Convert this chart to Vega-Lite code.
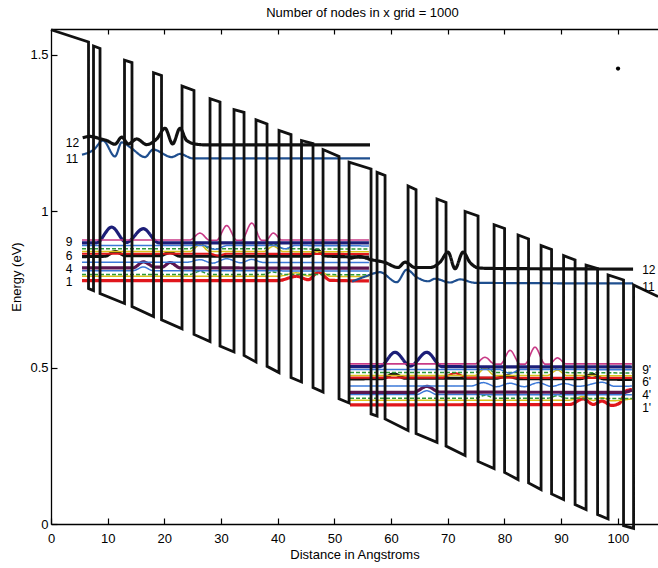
{
  "$schema": "https://vega.github.io/schema/vega-lite/v6.json",
  "width": 607,
  "height": 495,
  "autosize": "none",
  "padding": {"left": 51, "top": 29, "right": 0, "bottom": 44},
  "title": {"text": "Number of nodes in x grid = 1000", "fontSize": 13, "fontWeight": "normal", "offset": 4, "dx": 8, "frame": "group"},
  "config": {
    "font": "Liberation Sans",
    "view": {"stroke": null},
    "axis": {"grid": false, "domainColor": "black", "tickColor": "black", "labelColor": "black", "titleColor": "black", "labelFontSize": 13, "titleFontSize": 13, "titleFontWeight": "normal", "domainWidth": 1.3, "tickWidth": 1.2}
  },
  "datasets": {
    "band": [
      {"i":0,"x":0,"y":1.58},{"i":1,"x":6.62,"y":1.541},{"i":2,"x":6.62,"y":0.753},{"i":3,"x":7.5,"y":0.746},{"i":4,"x":7.5,"y":1.528},{"i":5,"x":8.65,"y":1.52},{"i":6,"x":8.65,"y":0.737},{"i":7,"x":12.97,"y":0.705},{"i":8,"x":12.97,"y":1.483},{"i":9,"x":14.29,"y":1.475},
      {"i":10,"x":14.29,"y":0.695},{"i":11,"x":18.09,"y":0.663},{"i":12,"x":18.09,"y":1.443},{"i":13,"x":19.5,"y":1.434},{"i":14,"x":19.5,"y":0.653},{"i":15,"x":23.12,"y":0.624},{"i":16,"x":23.12,"y":1.4},{"i":17,"x":25.23,"y":1.386},{"i":18,"x":25.23,"y":0.606},{"i":19,"x":28.06,"y":0.583},
      {"i":20,"x":28.06,"y":1.36},{"i":21,"x":29.82,"y":1.349},{"i":22,"x":29.82,"y":0.569},{"i":23,"x":32.29,"y":0.55},{"i":24,"x":32.29,"y":1.325},{"i":25,"x":34.06,"y":1.316},{"i":26,"x":34.06,"y":0.539},{"i":27,"x":36.17,"y":0.518},{"i":28,"x":36.17,"y":1.292},{"i":29,"x":38.12,"y":1.279},
      {"i":30,"x":38.12,"y":0.504},{"i":31,"x":40.23,"y":0.484},{"i":32,"x":40.23,"y":1.258},{"i":33,"x":42.35,"y":1.245},{"i":34,"x":42.35,"y":0.468},{"i":35,"x":44.2,"y":0.454},{"i":36,"x":44.2,"y":1.226},{"i":37,"x":46.23,"y":1.216},{"i":38,"x":46.23,"y":0.436},{"i":39,"x":48.0,"y":0.422},
      {"i":40,"x":48.0,"y":1.197},{"i":41,"x":50.82,"y":1.175},{"i":42,"x":50.82,"y":0.4},{"i":43,"x":52.59,"y":0.387},{"i":44,"x":52.59,"y":1.157},{"i":45,"x":56.47,"y":1.135},{"i":46,"x":56.47,"y":0.352},{"i":47,"x":57.53,"y":0.345},{"i":48,"x":57.53,"y":1.124},{"i":49,"x":58.94,"y":1.114},
      {"i":50,"x":58.94,"y":0.336},{"i":51,"x":63.0,"y":0.299},{"i":52,"x":63.0,"y":1.081},{"i":53,"x":64.41,"y":1.069},{"i":54,"x":64.41,"y":0.289},{"i":55,"x":68.11,"y":0.261},{"i":56,"x":68.11,"y":1.039},{"i":57,"x":69.7,"y":1.028},{"i":58,"x":69.7,"y":0.249},{"i":59,"x":73.06,"y":0.219},
      {"i":60,"x":73.06,"y":0.999},{"i":61,"x":75.35,"y":0.985},{"i":62,"x":75.35,"y":0.2},{"i":63,"x":78.18,"y":0.177},{"i":64,"x":78.18,"y":0.957},{"i":65,"x":80.03,"y":0.945},{"i":66,"x":80.03,"y":0.165},{"i":67,"x":82.41,"y":0.142},{"i":68,"x":82.41,"y":0.924},{"i":69,"x":84.26,"y":0.911},
      {"i":70,"x":84.26,"y":0.131},{"i":71,"x":86.47,"y":0.11},{"i":72,"x":86.47,"y":0.89},{"i":73,"x":88.32,"y":0.878},{"i":74,"x":88.32,"y":0.096},{"i":75,"x":90.44,"y":0.078},{"i":76,"x":90.44,"y":0.858},{"i":77,"x":92.47,"y":0.844},{"i":78,"x":92.47,"y":0.062},{"i":79,"x":94.41,"y":0.046},
      {"i":80,"x":94.41,"y":0.828},{"i":81,"x":96.44,"y":0.817},{"i":82,"x":96.44,"y":0.03},{"i":83,"x":98.29,"y":0.016},{"i":84,"x":98.29,"y":0.796},{"i":85,"x":101.02,"y":0.78},{"i":86,"x":101.02,"y":-0.005},{"i":87,"x":102.79,"y":-0.014},{"i":88,"x":102.79,"y":0.764},{"i":89,"x":107.11,"y":0.727}
    ],
    "levels": [
      {"s":"a1","k":1,"x":5.47,"y":0.778},{"s":"a1","k":1,"x":40.0,"y":0.778},{"s":"a1","k":1,"x":43.36,"y":0.792},{"s":"a1","k":1,"x":45.4,"y":0.781},{"s":"a1","k":1,"x":47.17,"y":0.805},{"s":"a1","k":1,"x":49.3,"y":0.779},{"s":"a1","k":1,"x":56.1,"y":0.777},
      {"s":"a2","k":2,"x":5.47,"y":0.792},{"s":"a2","k":2,"x":40.0,"y":0.792},{"s":"a2","k":2,"x":43.36,"y":0.803},{"s":"a2","k":2,"x":45.4,"y":0.793},{"s":"a2","k":2,"x":47.17,"y":0.812},{"s":"a2","k":2,"x":49.3,"y":0.792},{"s":"a2","k":2,"x":56.1,"y":0.791},
      {"s":"a3","k":3,"x":5.47,"y":0.798},{"s":"a3","k":3,"x":24.5,"y":0.798},{"s":"a3","k":3,"x":26.29,"y":0.808},{"s":"a3","k":3,"x":28.0,"y":0.798},{"s":"a3","k":3,"x":37.5,"y":0.798},{"s":"a3","k":3,"x":39.23,"y":0.806},{"s":"a3","k":3,"x":41.0,"y":0.798},{"s":"a3","k":3,"x":56.1,"y":0.797},
      {"s":"a4","k":4,"x":5.47,"y":0.81},{"s":"a4","k":4,"x":14.5,"y":0.81},{"s":"a4","k":4,"x":16.29,"y":0.822},{"s":"a4","k":4,"x":18.0,"y":0.81},{"s":"a4","k":4,"x":56.1,"y":0.809},
      {"s":"a5","k":5,"x":5.47,"y":0.819},{"s":"a5","k":5,"x":14.5,"y":0.819},{"s":"a5","k":5,"x":16.3,"y":0.838},{"s":"a5","k":5,"x":18.4,"y":0.821},{"s":"a5","k":5,"x":19.6,"y":0.821},{"s":"a5","k":5,"x":21.0,"y":0.836},{"s":"a5","k":5,"x":22.8,"y":0.819},{"s":"a5","k":5,"x":56.1,"y":0.818},
      {"s":"a6","k":6,"x":5.47,"y":0.837},{"s":"a6","k":6,"x":24.0,"y":0.837},{"s":"a6","k":6,"x":26.3,"y":0.845},{"s":"a6","k":6,"x":28.5,"y":0.834},{"s":"a6","k":6,"x":31.0,"y":0.848},{"s":"a6","k":6,"x":33.5,"y":0.835},{"s":"a6","k":6,"x":35.4,"y":0.846},{"s":"a6","k":6,"x":37.5,"y":0.836},{"s":"a6","k":6,"x":56.1,"y":0.836},
      {"s":"a7","k":7,"x":5.47,"y":0.855},{"s":"a7","k":7,"x":9.5,"y":0.856},{"s":"a7","k":7,"x":11.3,"y":0.871},{"s":"a7","k":7,"x":13.2,"y":0.858},{"s":"a7","k":7,"x":19.2,"y":0.858},{"s":"a7","k":7,"x":21.0,"y":0.868},{"s":"a7","k":7,"x":22.8,"y":0.856},{"s":"a7","k":7,"x":45.5,"y":0.856},{"s":"a7","k":7,"x":46.9,"y":0.876},{"s":"a7","k":7,"x":48.4,"y":0.857},{"s":"a7","k":7,"x":56.1,"y":0.853},
      {"s":"a8","k":8,"x":5.47,"y":0.864},{"s":"a8","k":8,"x":28.0,"y":0.864},{"s":"a8","k":8,"x":29.5,"y":0.858},{"s":"a8","k":8,"x":31.0,"y":0.864},{"s":"a8","k":8,"x":56.1,"y":0.863},
      {"s":"a9","k":9,"x":5.47,"y":0.871},{"s":"a9","k":9,"x":24.5,"y":0.871},{"s":"a9","k":9,"x":26.29,"y":0.893},{"s":"a9","k":9,"x":28.0,"y":0.871},{"s":"a9","k":9,"x":37.5,"y":0.871},{"s":"a9","k":9,"x":39.23,"y":0.888},{"s":"a9","k":9,"x":41.0,"y":0.871},{"s":"a9","k":9,"x":56.1,"y":0.87},
      {"s":"a10","k":10,"x":5.47,"y":0.88},{"s":"a10","k":10,"x":24.5,"y":0.88},{"s":"a10","k":10,"x":26.29,"y":0.9},{"s":"a10","k":10,"x":28.0,"y":0.88},{"s":"a10","k":10,"x":37.5,"y":0.88},{"s":"a10","k":10,"x":39.23,"y":0.896},{"s":"a10","k":10,"x":41.0,"y":0.88},{"s":"a10","k":10,"x":56.1,"y":0.879},
      {"s":"a11","k":11,"x":5.47,"y":0.89},{"s":"a11","k":11,"x":27.0,"y":0.89},{"s":"a11","k":11,"x":29.0,"y":0.878},{"s":"a11","k":11,"x":31.0,"y":0.89},{"s":"a11","k":11,"x":39.5,"y":0.89},{"s":"a11","k":11,"x":41.3,"y":0.88},{"s":"a11","k":11,"x":43.0,"y":0.89},{"s":"a11","k":11,"x":56.1,"y":0.889},
      {"s":"a12","k":12,"x":5.47,"y":0.899},{"s":"a12","k":12,"x":8.0,"y":0.899},{"s":"a12","k":12,"x":10.71,"y":0.949},{"s":"a12","k":12,"x":13.3,"y":0.9},{"s":"a12","k":12,"x":16.29,"y":0.944},{"s":"a12","k":12,"x":19.0,"y":0.899},{"s":"a12","k":12,"x":56.1,"y":0.899},
      {"s":"a13","k":13,"x":5.47,"y":0.908},{"s":"a13","k":13,"x":24.5,"y":0.908},{"s":"a13","k":13,"x":26.29,"y":0.93},{"s":"a13","k":13,"x":28.0,"y":0.907},{"s":"a13","k":13,"x":29.2,"y":0.907},{"s":"a13","k":13,"x":31.0,"y":0.954},{"s":"a13","k":13,"x":32.8,"y":0.907},{"s":"a13","k":13,"x":33.6,"y":0.907},{"s":"a13","k":13,"x":35.42,"y":0.962},{"s":"a13","k":13,"x":37.2,"y":0.907},{"s":"a13","k":13,"x":37.9,"y":0.907},{"s":"a13","k":13,"x":39.23,"y":0.93},{"s":"a13","k":13,"x":40.7,"y":0.908},{"s":"a13","k":13,"x":56.1,"y":0.908},
      {"s":"a14","k":14,"x":5.47,"y":1.181},{"s":"a14","k":14,"x":7.5,"y":1.196},{"s":"a14","k":14,"x":9.18,"y":1.226},{"s":"a14","k":14,"x":11.29,"y":1.175},{"s":"a14","k":14,"x":12.47,"y":1.22},{"s":"a14","k":14,"x":14.0,"y":1.204},{"s":"a14","k":14,"x":16.59,"y":1.173},{"s":"a14","k":14,"x":18.0,"y":1.197},{"s":"a14","k":14,"x":21.3,"y":1.173},{"s":"a14","k":14,"x":22.76,"y":1.183},{"s":"a14","k":14,"x":25.0,"y":1.169},{"s":"a14","k":14,"x":56.29,"y":1.169},
      {"s":"a15","k":15,"x":5.59,"y":1.235},{"s":"a15","k":15,"x":6.88,"y":1.239},{"s":"a15","k":15,"x":8.65,"y":1.232},{"s":"a15","k":15,"x":9.83,"y":1.226},{"s":"a15","k":15,"x":11.29,"y":1.214},{"s":"a15","k":15,"x":12.48,"y":1.237},{"s":"a15","k":15,"x":13.64,"y":1.215},{"s":"a15","k":15,"x":15.12,"y":1.231},{"s":"a15","k":15,"x":16.88,"y":1.213},{"s":"a15","k":15,"x":18.65,"y":1.231},{"s":"a15","k":15,"x":20.12,"y":1.265},{"s":"a15","k":15,"x":21.47,"y":1.215},{"s":"a15","k":15,"x":22.76,"y":1.265},{"s":"a15","k":15,"x":23.94,"y":1.226},{"s":"a15","k":15,"x":25.71,"y":1.214},{"s":"a15","k":15,"x":27.5,"y":1.212},{"s":"a15","k":15,"x":56.29,"y":1.212},
      {"s":"b1","k":1,"x":52.76,"y":0.381},{"s":"b1","k":1,"x":91.5,"y":0.382},{"s":"b1","k":1,"x":93.93,"y":0.4},{"s":"b1","k":1,"x":95.69,"y":0.382},{"s":"b1","k":1,"x":97.18,"y":0.393},{"s":"b1","k":1,"x":98.94,"y":0.379},{"s":"b1","k":1,"x":100.3,"y":0.386},{"s":"b1","k":1,"x":101.59,"y":0.427},{"s":"b1","k":1,"x":102.5,"y":0.43},
      {"s":"b2","k":2,"x":52.76,"y":0.396},{"s":"b2","k":2,"x":91.5,"y":0.396},{"s":"b2","k":2,"x":93.93,"y":0.408},{"s":"b2","k":2,"x":95.69,"y":0.395},{"s":"b2","k":2,"x":97.18,"y":0.404},{"s":"b2","k":2,"x":98.94,"y":0.394},{"s":"b2","k":2,"x":102.5,"y":0.4},
      {"s":"b3","k":3,"x":52.76,"y":0.402},{"s":"b3","k":3,"x":74.8,"y":0.402},{"s":"b3","k":3,"x":76.58,"y":0.412},{"s":"b3","k":3,"x":78.3,"y":0.402},{"s":"b3","k":3,"x":87.6,"y":0.402},{"s":"b3","k":3,"x":89.34,"y":0.41},{"s":"b3","k":3,"x":91.0,"y":0.402},{"s":"b3","k":3,"x":102.5,"y":0.401},
      {"s":"b4","k":4,"x":52.76,"y":0.414},{"s":"b4","k":4,"x":64.5,"y":0.414},{"s":"b4","k":4,"x":66.3,"y":0.426},{"s":"b4","k":4,"x":68.1,"y":0.414},{"s":"b4","k":4,"x":102.5,"y":0.413},
      {"s":"b5","k":5,"x":52.76,"y":0.421},{"s":"b5","k":5,"x":64.0,"y":0.421},{"s":"b5","k":5,"x":66.3,"y":0.44},{"s":"b5","k":5,"x":68.6,"y":0.422},{"s":"b5","k":5,"x":101.0,"y":0.421},{"s":"b5","k":5,"x":102.5,"y":0.428},
      {"s":"b6","k":6,"x":52.76,"y":0.441},{"s":"b6","k":6,"x":74.0,"y":0.441},{"s":"b6","k":6,"x":76.3,"y":0.452},{"s":"b6","k":6,"x":78.6,"y":0.439},{"s":"b6","k":6,"x":81.0,"y":0.45},{"s":"b6","k":6,"x":83.5,"y":0.439},{"s":"b6","k":6,"x":86.0,"y":0.452},{"s":"b6","k":6,"x":88.3,"y":0.44},{"s":"b6","k":6,"x":90.6,"y":0.449},{"s":"b6","k":6,"x":93.0,"y":0.44},{"s":"b6","k":6,"x":97.3,"y":0.453},{"s":"b6","k":6,"x":99.5,"y":0.44},{"s":"b6","k":6,"x":102.5,"y":0.441},
      {"s":"b7","k":7,"x":52.76,"y":0.464},{"s":"b7","k":7,"x":58.5,"y":0.465},{"s":"b7","k":7,"x":60.5,"y":0.48},{"s":"b7","k":7,"x":62.5,"y":0.466},{"s":"b7","k":7,"x":78.5,"y":0.466},{"s":"b7","k":7,"x":80.5,"y":0.474},{"s":"b7","k":7,"x":82.5,"y":0.465},{"s":"b7","k":7,"x":93.5,"y":0.465},{"s":"b7","k":7,"x":95.5,"y":0.478},{"s":"b7","k":7,"x":97.5,"y":0.464},{"s":"b7","k":7,"x":102.5,"y":0.462},
      {"s":"b8","k":8,"x":52.76,"y":0.468},{"s":"b8","k":8,"x":69.0,"y":0.468},{"s":"b8","k":8,"x":71.3,"y":0.482},{"s":"b8","k":8,"x":73.5,"y":0.468},{"s":"b8","k":8,"x":102.5,"y":0.467},
      {"s":"b9","k":9,"x":52.76,"y":0.475},{"s":"b9","k":9,"x":74.8,"y":0.475},{"s":"b9","k":9,"x":76.58,"y":0.497},{"s":"b9","k":9,"x":78.3,"y":0.475},{"s":"b9","k":9,"x":87.6,"y":0.475},{"s":"b9","k":9,"x":89.34,"y":0.492},{"s":"b9","k":9,"x":91.0,"y":0.475},{"s":"b9","k":9,"x":102.5,"y":0.474},
      {"s":"b10","k":10,"x":52.76,"y":0.484},{"s":"b10","k":10,"x":74.8,"y":0.484},{"s":"b10","k":10,"x":76.58,"y":0.504},{"s":"b10","k":10,"x":78.3,"y":0.484},{"s":"b10","k":10,"x":87.6,"y":0.484},{"s":"b10","k":10,"x":89.34,"y":0.5},{"s":"b10","k":10,"x":91.0,"y":0.484},{"s":"b10","k":10,"x":102.5,"y":0.483},
      {"s":"b11","k":11,"x":52.76,"y":0.494},{"s":"b11","k":11,"x":79.0,"y":0.494},{"s":"b11","k":11,"x":81.0,"y":0.482},{"s":"b11","k":11,"x":83.0,"y":0.494},{"s":"b11","k":11,"x":102.5,"y":0.493},
      {"s":"b12","k":12,"x":52.76,"y":0.503},{"s":"b12","k":12,"x":58.0,"y":0.503},{"s":"b12","k":12,"x":60.7,"y":0.549},{"s":"b12","k":12,"x":63.4,"y":0.505},{"s":"b12","k":12,"x":66.3,"y":0.549},{"s":"b12","k":12,"x":69.0,"y":0.503},{"s":"b12","k":12,"x":102.5,"y":0.502},
      {"s":"b13","k":13,"x":52.76,"y":0.512},{"s":"b13","k":13,"x":74.8,"y":0.512},{"s":"b13","k":13,"x":76.58,"y":0.533},{"s":"b13","k":13,"x":78.3,"y":0.511},{"s":"b13","k":13,"x":79.3,"y":0.511},{"s":"b13","k":13,"x":81.0,"y":0.555},{"s":"b13","k":13,"x":82.8,"y":0.511},{"s":"b13","k":13,"x":83.6,"y":0.511},{"s":"b13","k":13,"x":85.4,"y":0.565},{"s":"b13","k":13,"x":87.2,"y":0.511},{"s":"b13","k":13,"x":87.9,"y":0.511},{"s":"b13","k":13,"x":89.34,"y":0.531},{"s":"b13","k":13,"x":90.9,"y":0.512},{"s":"b13","k":13,"x":102.5,"y":0.512},
      {"s":"b14","k":14,"x":53.11,"y":0.775},{"s":"b14","k":14,"x":55.41,"y":0.791},{"s":"b14","k":14,"x":58.05,"y":0.805},{"s":"b14","k":14,"x":61.0,"y":0.773},{"s":"b14","k":14,"x":62.77,"y":0.813},{"s":"b14","k":14,"x":64.53,"y":0.789},{"s":"b14","k":14,"x":66.53,"y":0.776},{"s":"b14","k":14,"x":67.76,"y":0.784},{"s":"b14","k":14,"x":70.41,"y":0.772},{"s":"b14","k":14,"x":72.17,"y":0.782},{"s":"b14","k":14,"x":74.82,"y":0.771},{"s":"b14","k":14,"x":102.7,"y":0.769},
      {"s":"b15","k":15,"x":52.76,"y":0.849},{"s":"b15","k":15,"x":54.5,"y":0.855},{"s":"b15","k":15,"x":56.29,"y":0.846},{"s":"b15","k":15,"x":58.94,"y":0.836},{"s":"b15","k":15,"x":61.23,"y":0.82},{"s":"b15","k":15,"x":62.47,"y":0.837},{"s":"b15","k":15,"x":64.23,"y":0.82},{"s":"b15","k":15,"x":66.88,"y":0.82},{"s":"b15","k":15,"x":68.64,"y":0.837},{"s":"b15","k":15,"x":70.06,"y":0.869},{"s":"b15","k":15,"x":71.29,"y":0.816},{"s":"b15","k":15,"x":72.7,"y":0.869},{"s":"b15","k":15,"x":73.94,"y":0.836},{"s":"b15","k":15,"x":75.35,"y":0.819},{"s":"b15","k":15,"x":77.47,"y":0.817},{"s":"b15","k":15,"x":102.7,"y":0.815}
    ],
    "labels": [
      {"t":"12","x":2.6,"y":1.217},{"t":"11","x":2.6,"y":1.168},{"t":"9","x":2.6,"y":0.9},{"t":"6","x":2.6,"y":0.858},{"t":"4","x":2.6,"y":0.816},{"t":"1","x":2.6,"y":0.775},
      {"t":"12","x":104.3,"y":0.813},{"t":"11","x":104.3,"y":0.759},{"t":"9'","x":104.3,"y":0.493},{"t":"6'","x":104.3,"y":0.453},{"t":"4'","x":104.3,"y":0.411},{"t":"1'","x":104.3,"y":0.37}
    ],
    "specks": [{"x":100.05,"y":1.456}]
  },
  "layer": [
    {
      "data": {"name": "levels"},
      "mark": {"type": "line", "interpolate": "monotone"},
      "encoding": {
        "x": {"field": "x", "type": "quantitative", "scale": {"domain": [0, 107.1], "nice": false, "zero": false}, "axis": null},
        "y": {"field": "y", "type": "quantitative", "scale": {"domain": [0, 1.5825], "nice": false, "zero": false}, "axis": null},
        "detail": {"field": "s", "type": "nominal"},
        "color": {"field": "k", "type": "nominal", "legend": null,
                  "scale": {"domain": [1,2,3,4,5,6,7,8,9,10,11,12,13,14,15],
                            "range": ["#e0161c","#d9c21a","#2e9a38","#3b78d8","#5c1650","#3b78d8","#111111","#e0161c","#d9c21a","#2e9a38","#3b78d8","#1c1e78","#c83a86","#1f4f8f","#111111"]}},
        "strokeWidth": {"field": "k", "type": "nominal", "legend": null,
                  "scale": {"type": "ordinal", "domain": [1,2,3,4,5,6,7,8,9,10,11,12,13,14,15],
                            "range": [3.2,1.5,1.5,1.5,3.2,1.5,3.2,2.2,1.5,1.5,1.5,3.2,1.6,2.2,3.2]}},
        "strokeDash": {"field": "k", "type": "nominal", "legend": null,
                  "scale": {"domain": [1,2,3,4,5,6,7,8,9,10,11,12,13,14,15],
                            "range": [[1,0],[1,0],[4,2],[1,0],[1,0],[1,0],[1,0],[1,0],[1,0],[4,2],[1,0],[1,0],[1,0],[1,0],[1,0]]}}
      }
    },
    {
      "data": {"name": "band"},
      "mark": {"type": "line", "color": "#111111", "strokeWidth": 2.8, "strokeJoin": "miter", "strokeMiterLimit": 4},
      "encoding": {
        "x": {"field": "x", "type": "quantitative", "scale": {"domain": [0, 107.1], "nice": false, "zero": false},
              "axis": {"values": [0,10,20,30,40,50,60,70,80,90,100], "tickSize": -6, "labelPadding": 14, "title": "Distance in Angstroms", "titlePadding": 3, "labelFlush": false}},
        "y": {"field": "y", "type": "quantitative", "scale": {"domain": [0, 1.5825], "nice": false, "zero": false},
              "axis": {"values": [0, 0.5, 1, 1.5], "tickSize": -6, "labelPadding": 9, "labelExpr": "'' + datum.value", "title": "Energy (eV)", "titlePadding": 6, "labelFlush": false}},
        "order": {"field": "i", "type": "quantitative"}
      }
    },
    {
      "data": {"name": "labels"},
      "mark": {"type": "text", "align": "left", "baseline": "middle", "fontSize": 12, "color": "black"},
      "encoding": {
        "x": {"field": "x", "type": "quantitative", "scale": {"domain": [0, 107.1], "nice": false, "zero": false}, "axis": null},
        "y": {"field": "y", "type": "quantitative", "scale": {"domain": [0, 1.5825], "nice": false, "zero": false}, "axis": null},
        "text": {"field": "t", "type": "nominal"}
      }
    },
    {
      "data": {"name": "specks"},
      "mark": {"type": "point", "filled": true, "color": "black", "size": 18, "opacity": 1},
      "encoding": {
        "x": {"field": "x", "type": "quantitative", "scale": {"domain": [0, 107.1], "nice": false, "zero": false},
              "axis": {"orient": "top", "values": [10,20,30,40,50,60,70,80,90,100], "tickSize": -5, "labels": false, "title": null}},
        "y": {"field": "y", "type": "quantitative", "scale": {"domain": [0, 1.5825], "nice": false, "zero": false}, "axis": null}
      }
    }
  ],
  "resolve": {"axis": {"x": "independent", "y": "independent"}}
}
